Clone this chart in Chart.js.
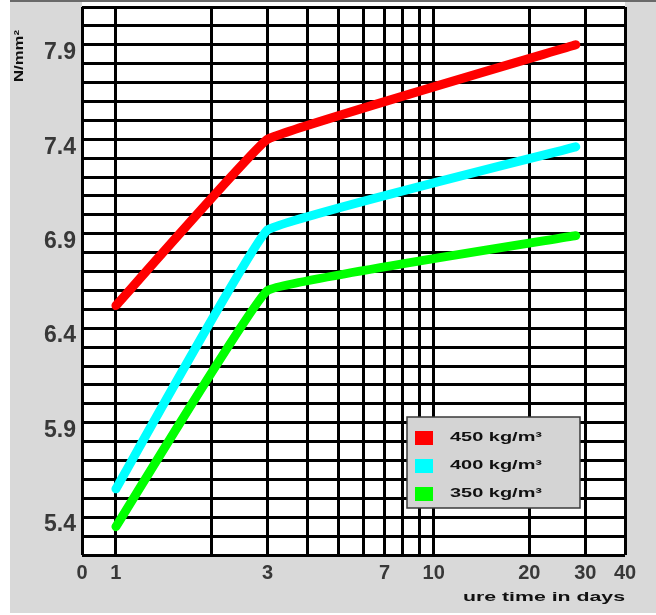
<!DOCTYPE html>
<html>
<head>
<meta charset="utf-8">
<script src="https://cdn.jsdelivr.net/npm/chart.js@4.4.1/dist/chart.umd.min.js"></script>
<style>
	html, body { margin: 0; padding: 0; background: #ffffff; }
	#wrap { width: 656px; height: 615px; }
</style>
</head>
<body>
<div id="wrap"><canvas id="strength" width="656" height="615"></canvas></div>
<script>
	// cure time (days) and strength (N/mm2) per density
	const days = [1, 3, 28];
	const s450 = [6.62, 7.50, 8.00];
	const s400 = [5.65, 7.02, 7.46];
	const s350 = [5.45, 6.70, 6.99];

	const seriesNames = ['450 kg/m³', '400 kg/m³', '350 kg/m³'];
	const seriesColors = ['#ff0000', '#00ffff', '#00ff00'];

	// axes
	const xGrid = [1, 2, 3, 4, 5, 6, 7, 8, 9, 10, 20, 30, 40];
	const xLabels = [1, 3, 7, 10, 20, 30, 40];
	const xMin = 0.782;
	const xMax = 40;
	const yLabels = [5.4, 5.9, 6.4, 6.9, 7.4, 7.9];
	const yMin = 5.3;
	const yMax = 8.2;
	const yStep = 0.1;

	const yTitle = 'N/mm²';
	const xTitle = 'ure time in days';

	function toPoints(vals) {
		return days.map((d, i) => ({ x: d, y: vals[i] }));
	}

	/**
	 * Draw text squeezed or stretched to a given width
	 */
	function fitText(ctx, text, x, y, width) {
		const w = ctx.measureText(text).width;
		ctx.save();
		ctx.translate(x, y);
		ctx.scale(width / w, 1);
		ctx.fillText(text, 0, 0);
		ctx.restore();
	}

	const framePlugin = {
		id: 'frame',
		beforeDraw(chart) {
			const ctx = chart.ctx;
			const a = chart.chartArea;
			ctx.save();
			ctx.fillStyle = '#ffffff';
			ctx.fillRect(0, 0, chart.width, chart.height);
			ctx.fillStyle = '#d9d9d9';
			ctx.fillRect(10, 0, chart.width - 10, 613);
			ctx.fillStyle = '#6a6a6a';
			ctx.fillRect(10, 0, chart.width - 10, 2);
			ctx.fillStyle = '#ffffff';
			ctx.fillRect(a.left, 2, a.right - a.left, a.bottom - 2);
			ctx.restore();
		},
		afterDatasetsDraw(chart) {
			const ctx = chart.ctx;
			ctx.save();

			// legend box
			ctx.fillStyle = '#d4d4d4';
			ctx.fillRect(407, 417, 173, 91);
			ctx.strokeStyle = '#3a3a3a';
			ctx.lineWidth = 1.5;
			ctx.strokeRect(407, 417, 173, 91);
			chart.data.datasets.forEach((ds, i) => {
				const cy = 438 + i * 28;
				ctx.fillStyle = ds.borderColor;
				ctx.fillRect(415, cy - 7, 18, 14);
				ctx.fillStyle = '#111111';
				ctx.font = 'bold 12px "Liberation Sans", Arial, sans-serif';
				ctx.textBaseline = 'middle';
				ctx.textAlign = 'left';
				fitText(ctx, ds.label, 450, cy, 92);
			});

			// axis titles
			ctx.fillStyle = '#111111';
			ctx.font = 'bold 12px "Liberation Sans", Arial, sans-serif';
			ctx.textBaseline = 'middle';
			ctx.textAlign = 'left';
			fitText(ctx, xTitle, 463, 598, 162);

			ctx.save();
			ctx.translate(20, 82);
			ctx.rotate(-Math.PI / 2);
			fitText(ctx, yTitle, 0, 0, 52);
			ctx.restore();

			ctx.restore();
		}
	};

	new Chart(document.getElementById('strength'), {
		type: 'line',
		data: {
			datasets: [s450, s400, s350].map((vals, i) => ({
				label: seriesNames[i],
				data: toPoints(vals),
				borderColor: seriesColors[i],
				backgroundColor: seriesColors[i],
				borderWidth: 9,
				borderCapStyle: 'round',
				borderJoinStyle: 'round',
				pointRadius: 0,
				tension: 0.06,
				fill: false
			}))
		},
		options: {
			responsive: false,
			animation: false,
			layout: { padding: { left: 0, top: 7, right: 31, bottom: 0 } },
			plugins: {
				legend: { display: false },
				tooltip: { enabled: false }
			},
			scales: {
				x: {
					type: 'logarithmic',
					min: xMin,
					max: xMax,
					afterBuildTicks: s => {
						s.ticks = [{ value: xMin }].concat(xGrid.map(v => ({ value: v })));
					},
					afterFit: s => {
						s.height = 60;
						s.paddingLeft = 0;
						s.paddingRight = 0;
					},
					grid: { color: '#000000', lineWidth: 3, drawTicks: false },
					border: { display: false },
					ticks: {
						autoSkip: false,
						maxRotation: 0,
						padding: 6,
						color: '#383838',
						font: { family: '"Liberation Sans", Arial, sans-serif', size: 20, weight: 'bold' },
						callback: v => (v === xMin ? '0' : (xLabels.includes(v) ? String(v) : ''))
					}
				},
				y: {
					type: 'linear',
					min: yMin,
					max: yMax,
					afterBuildTicks: s => {
						const t = [];
						const n = Math.round((yMax - yMin) / yStep);
						for (let i = 0; i <= n; i++) {
							t.push({ value: Math.round((yMin + i * yStep) * 10) / 10 });
						}
						s.ticks = t;
					},
					afterFit: s => {
						s.width = 82;
						s.paddingTop = 0;
						s.paddingBottom = 0;
					},
					grid: { color: '#000000', lineWidth: 3, drawTicks: false },
					border: { display: false },
					ticks: {
						autoSkip: false,
						padding: 6,
						labelOffset: -11,
						color: '#383838',
						font: { family: '"Liberation Sans", Arial, sans-serif', size: 23, weight: 'bold' },
						callback: v => (yLabels.includes(v) ? v.toFixed(1) : '')
					}
				}
			}
		},
		plugins: [framePlugin]
	});
</script>
</body>
</html>
